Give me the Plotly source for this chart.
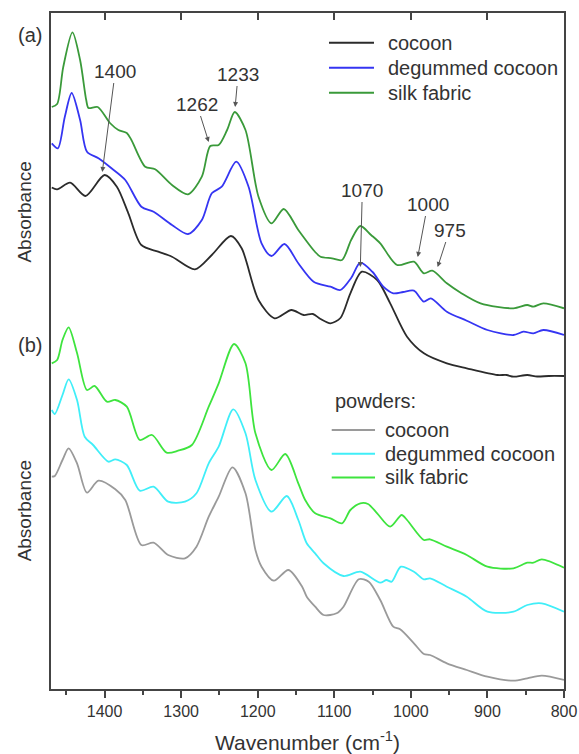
import plotly.graph_objects as go

# ---------------- data (wavenumber in cm-1, absorbance in arbitrary offset units) ----------------
# (a) films / fabrics
wn_coc_a = [1469, 1462, 1445, 1425, 1400, 1384, 1369, 1352, 1330, 1312, 1282, 1260, 1235, 1221, 1199, 1178,
            1156, 1140, 1128, 1118, 1105, 1092, 1079, 1064, 1044, 1027, 1005, 983, 953, 927, 887, 875, 866,
            848, 835, 820, 800]
ab_coc_a = [5.015, 4.997, 5.063, 4.93, 5.14, 5.023, 4.757, 4.44, 4.373, 4.323, 4.197, 4.34, 4.53, 4.407, 3.89,
            3.707, 3.79, 3.74, 3.75, 3.70, 3.657, 3.71, 3.957, 4.173, 4.09, 3.857, 3.523, 3.357, 3.257, 3.207,
            3.14, 3.14, 3.123, 3.14, 3.125, 3.13, 3.13]

wn_deg_a = [1469, 1461, 1452, 1443, 1432, 1423, 1408, 1391, 1373, 1352, 1336, 1312, 1291, 1273, 1260, 1247,
            1228, 1212, 1195, 1182, 1165, 1147, 1127, 1105, 1092, 1078, 1066, 1050, 1036, 1023, 1010, 996, 983,
            974, 953, 927, 900, 866, 853, 840, 827, 800]
ab_deg_a = [5.457, 5.407, 5.72, 5.96, 5.69, 5.373, 5.307, 5.207, 5.09, 4.823, 4.773, 4.64, 4.55, 4.69, 4.957,
            5.023, 5.273, 5.023, 4.457, 4.33, 4.45, 4.257, 4.073, 4.023, 3.99, 4.11, 4.263, 4.17, 4.023, 3.957,
            3.97, 3.983, 3.873, 3.907, 3.773, 3.683, 3.59, 3.54, 3.573, 3.557, 3.59, 3.54]

wn_silk_a = [1469, 1462, 1454, 1442, 1432, 1424, 1421, 1409, 1393, 1382, 1371, 1365, 1347, 1334, 1312, 1291,
             1273, 1262, 1251, 1240, 1230, 1216, 1199, 1182, 1166, 1147, 1125, 1118, 1103, 1090, 1078, 1066,
             1052, 1040, 1018, 996, 983, 972, 953, 935, 909, 866, 848, 840, 827, 800]
ab_silk_a = [5.82, 5.85, 6.22, 6.567, 6.29, 5.89, 5.81, 5.82, 5.66, 5.59, 5.56, 5.49, 5.223, 5.197, 5.04, 4.947,
             5.123, 5.43, 5.44, 5.59, 5.77, 5.59, 4.923, 4.657, 4.80, 4.59, 4.37, 4.323, 4.307, 4.29, 4.49, 4.63,
             4.54, 4.457, 4.24, 4.273, 4.157, 4.183, 4.057, 3.963, 3.857, 3.807, 3.84, 3.823, 3.857, 3.807]

# (b) powders
wn_coc_b = [1469, 1465, 1455, 1447, 1436, 1423, 1408, 1386, 1373, 1352, 1336, 1317, 1295, 1280, 1264, 1251,
            1233, 1216, 1203, 1195, 1179, 1160, 1142, 1136, 1125, 1114, 1097, 1088, 1068, 1055, 1040, 1023,
            1014, 996, 983, 975, 953, 927, 900, 866, 848, 829, 800]
ab_coc_b = [2.123, 2.13, 2.29, 2.407, 2.257, 1.963, 2.083, 1.997, 1.89, 1.44, 1.463, 1.34, 1.307, 1.423, 1.723,
            1.923, 2.217, 1.957, 1.39, 1.223, 1.083, 1.19, 1.023, 0.923, 0.823, 0.74, 0.757, 0.823, 1.097,
            1.073, 0.89, 0.623, 0.597, 0.457, 0.35, 0.34, 0.257, 0.19, 0.123, 0.083, 0.107, 0.133, 0.09]

wn_deg_b = [1469, 1465, 1455, 1447, 1436, 1426, 1415, 1395, 1386, 1371, 1354, 1336, 1317, 1295, 1280, 1264,
            1251, 1232, 1216, 1203, 1182, 1162, 1147, 1136, 1125, 1114, 1088, 1066, 1040, 1032, 1025, 1013,
            996, 983, 975, 953, 927, 900, 866, 848, 829, 800]
ab_deg_b = [2.79, 2.75, 2.94, 3.097, 2.89, 2.523, 2.44, 2.273, 2.297, 2.24, 1.983, 2.023, 1.873, 1.873, 1.957,
            2.257, 2.423, 2.797, 2.557, 2.09, 1.773, 1.93, 1.69, 1.457, 1.357, 1.257, 1.13, 1.173, 1.063, 1.09,
            1.073, 1.223, 1.173, 1.097, 1.107, 1.023, 0.923, 0.773, 0.773, 0.84, 0.857, 0.773]

wn_silk_b = [1469, 1462, 1455, 1447, 1436, 1423, 1413, 1397, 1386, 1371, 1354, 1338, 1319, 1304, 1286, 1264,
             1251, 1231, 1216, 1203, 1182, 1164, 1147, 1138, 1125, 1105, 1090, 1079, 1066, 1056, 1044, 1027,
             1012, 1005, 983, 975, 953, 927, 900, 866, 848, 840, 829, 800]
ab_silk_b = [3.257, 3.29, 3.49, 3.617, 3.36, 2.99, 3.03, 2.873, 2.89, 2.823, 2.49, 2.54, 2.363, 2.383, 2.44,
             2.823, 3.057, 3.45, 3.257, 2.557, 2.19, 2.35, 2.057, 1.89, 1.757, 1.707, 1.657, 1.79, 1.857, 1.85,
             1.757, 1.623, 1.74, 1.69, 1.49, 1.497, 1.423, 1.34, 1.223, 1.207, 1.263, 1.263, 1.297, 1.213]

x_ticks = [1400, 1300, 1200, 1100, 1000, 900, 800]
x_minor = [1450, 1350, 1250, 1150, 1050, 950, 850]

# peak labels: (label, wavenumber, absorbance at arrow tip, text offset px)
peak_labels = [("1400", 1403, 5.17, 13, -101), ("1262", 1264, 5.47, -12, -38), ("1233", 1229.5, 5.82, 3, -33),
               ("1070", 1066, 4.22, 2, -77), ("1000", 991, 4.32, 10, -53), ("975", 965, 4.22, 12, -37)]

series_names = ["cocoon", "degummed cocoon", "silk fabric"]
colors_a = ["#2b2b2b", "#3535f2", "#3a9a3a"]
colors_b = ["#9a9a9a", "#40eef8", "#3ee43e"]

FONT = "Liberation Sans, Arial, sans-serif"
TXT = "#333333"
AX = "#444444"

fig = go.Figure()
lw = 1.8
panel_a = [(wn_coc_a, ab_coc_a), (wn_deg_a, ab_deg_a), (wn_silk_a, ab_silk_a)]
panel_b = [(wn_coc_b, ab_coc_b), (wn_deg_b, ab_deg_b), (wn_silk_b, ab_silk_b)]
for (xs, ys), nm, c in zip(panel_a, series_names, colors_a):
    fig.add_trace(go.Scatter(x=xs, y=ys, name=nm, mode="lines", showlegend=False,
                             line=dict(color=c, width=lw, shape="spline", smoothing=0.8)))
for (xs, ys), nm, c in zip(panel_b, series_names, colors_b):
    fig.add_trace(go.Scatter(x=xs, y=ys, name="powders: " + nm, mode="lines", showlegend=False,
                             line=dict(color=c, width=lw, shape="spline", smoothing=0.8)))
# carrier for the top (inward) tick axis
fig.add_trace(go.Scatter(x=[1470, 800], y=[None, None], xaxis="x2", mode="lines", showlegend=False,
                         hoverinfo="skip"))

for lab, x, y, axp, ayp in peak_labels:
    fig.add_annotation(x=x, y=y, text=lab, showarrow=True, ax=axp, ay=ayp, arrowhead=2, arrowsize=1,
                       arrowwidth=1, arrowcolor="#555555", standoff=0,
                       font=dict(family=FONT, size=19, color=TXT))

def ptxt(x, y, text, size=20, angle=0, xanchor="center"):
    fig.add_annotation(xref="paper", yref="paper", x=x, y=y, text=text, textangle=angle, showarrow=False,
                       xanchor=xanchor, yanchor="middle", font=dict(family=FONT, size=size, color=TXT))

ptxt(-0.041, 0.968, "(a)")
ptxt(-0.041, 0.509, "(b)")
ptxt(-0.051, 0.706, "Absorbance", size=19, angle=-90)
ptxt(-0.051, 0.264, "Absorbance", size=19, angle=-90)

# legends (drawn in paper coordinates)
leg_a_rows = [0.956, 0.919, 0.882]
for yy, nm, c in zip(leg_a_rows, series_names, colors_a):
    fig.add_shape(type="line", xref="paper", yref="paper", x0=0.5419, x1=0.6296, y0=yy, y1=yy,
                  line=dict(color=c, width=2))
    ptxt(0.653, yy, nm, size=20, xanchor="left")

ptxt(0.5503, 0.4265, "powders:", size=20, xanchor="left")
leg_b_rows = [0.383, 0.348, 0.313]
for yy, nm, c in zip(leg_b_rows, series_names, colors_b):
    fig.add_shape(type="line", xref="paper", yref="paper", x0=0.5472, x1=0.6316, y0=yy, y1=yy,
                  line=dict(color=c, width=2))
    ptxt(0.6466, yy, nm, size=20, xanchor="left")

fig.update_layout(
    width=579, height=754,
    margin=dict(l=51, r=15, t=13, b=65),
    paper_bgcolor="white", plot_bgcolor="white",
    font=dict(family=FONT, color=TXT),
    showlegend=False,
    xaxis=dict(range=[1470, 800], tickvals=x_ticks, ticks="outside", ticklen=7, tickwidth=1.5,
               tickcolor=AX, showline=True, linecolor=AX, linewidth=1.5, mirror=True, automargin=False,
               showgrid=False, zeroline=False, tickfont=dict(family=FONT, size=16, color=TXT),
               minor=dict(tickvals=x_minor, ticks="outside", ticklen=4, tickwidth=1.5, tickcolor=AX),
               title=dict(text="Wavenumber (cm<sup>-1</sup>)", font=dict(family=FONT, size=21, color=TXT),
                          standoff=16)),
    xaxis2=dict(range=[1470, 800], overlaying="x", side="top", anchor="y", tickvals=x_ticks,
                ticks="inside", ticklen=7, tickwidth=1.5, tickcolor=AX, showticklabels=False,
                showline=False, showgrid=False, zeroline=False, automargin=False),
    yaxis=dict(range=[0, 6.76], showticklabels=False, ticks="", showgrid=False, zeroline=False,
               showline=True, linecolor=AX, linewidth=1.5, mirror=True, automargin=False),
)

fig.write_html("out.html")
